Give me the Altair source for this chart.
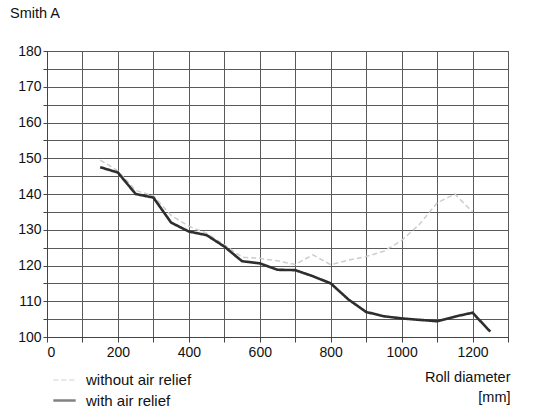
import altair as alt
import pandas as pd

# ---- data ----
without_x = [150, 200, 250, 300, 350, 400, 450, 500, 550, 600, 650, 700, 750,
             800, 850, 900, 950, 1000, 1050, 1100, 1150, 1200]
without_y = [149.5, 146.5, 141, 139.5, 134, 131, 129, 125.8, 122.3, 122, 121.3,
             120.3, 123, 120.2, 121.5, 122.5, 124, 127, 131.5, 137.5, 140, 135]

with_x = [150, 200, 250, 300, 350, 400, 450, 500, 550, 600, 650, 700, 750,
          800, 850, 900, 950, 1000, 1050, 1100, 1150, 1200, 1250]
with_y = [147.5, 146, 140, 139, 132, 129.5, 128.5, 125.3, 121.2, 120.6, 118.8,
          118.7, 117, 115, 110.5, 107, 105.8, 105.2, 104.8, 104.4, 105.7, 106.8, 101.5]

series = ["without air relief", "with air relief"]
x_ticks = list(range(0, 1301, 100))
y_ticks = list(range(100, 181, 5))

rows = []
for x, y in zip(without_x, without_y):
    rows.append({"d": x, "v": y, "s": series[0], "o": 0})
for x, y in zip(with_x, with_y):
    rows.append({"d": x, "v": y, "s": series[1], "o": 1})
df = pd.DataFrame(rows)

FONT = "Liberation Sans"

chart = alt.Chart(df).mark_line(interpolate="linear").encode(
    x=alt.X("d:Q",
            scale=alt.Scale(domain=[0, 1300], nice=False, zero=False),
            axis=alt.Axis(values=x_ticks,
                          labelExpr="datum.value % 200 == 0 ? datum.label : ''",
                          format="d",
                          title=["Roll diameter", "[mm]"],
                          titleAnchor="end", titleAlign="right",
                          titleX=463, titleY=33, titleBaseline="top",
                          titleLineHeight=20,
                          titleFont=FONT, titleFontSize=14.5,
                          titleFontWeight="normal", titleColor="#111",
                          tickSize=5, labelPadding=3)),
    y=alt.Y("v:Q",
            scale=alt.Scale(domain=[100, 180], nice=False, zero=False),
            axis=alt.Axis(values=y_ticks,
                          labelExpr="datum.value % 10 == 0 ? datum.label : ''",
                          title=None, tickSize=4, labelPadding=2)),
    color=alt.Color("s:N",
                    scale=alt.Scale(domain=series, range=["#cdcdcd", "#2e2e2e"]),
                    legend=alt.Legend(title=None, orient="none",
                                      legendX=5, legendY=317,
                                      symbolType="stroke", symbolSize=500,
                                      symbolOpacity=0.6,
                                      labelFont=FONT, labelFontSize=15,
                                      labelColor="#111", labelOffset=9,
                                      rowPadding=0)),
    strokeDash=alt.StrokeDash("s:N",
                              scale=alt.Scale(domain=series, range=[[5, 3], [1, 0]]),
                              legend=None),
    strokeWidth=alt.StrokeWidth("s:N",
                                scale=alt.Scale(domain=series, range=[1.5, 2.6]),
                                legend=None),
    order="o:Q",
    detail="s:N",
).properties(
    width=461, height=286,
    title=alt.Title("Smith A", anchor="start", frame="group", dx=-37, dy=-19,
                    font=FONT, fontSize=14.5, fontWeight="normal", color="#111"),
    autosize=alt.AutoSizeParams(type="none"),
    padding={"left": 47, "top": 51, "right": 25, "bottom": 71},
).configure_axis(
    gridColor="#5a5a5a", gridWidth=1, gridOpacity=1,
    domainColor="#444", tickColor="#444",
    labelFont=FONT, labelFontSize=14, labelColor="#111",
).configure_view(stroke="#555", strokeWidth=1)

chart.save("out.html", embed_options={"renderer": "svg", "actions": False})
